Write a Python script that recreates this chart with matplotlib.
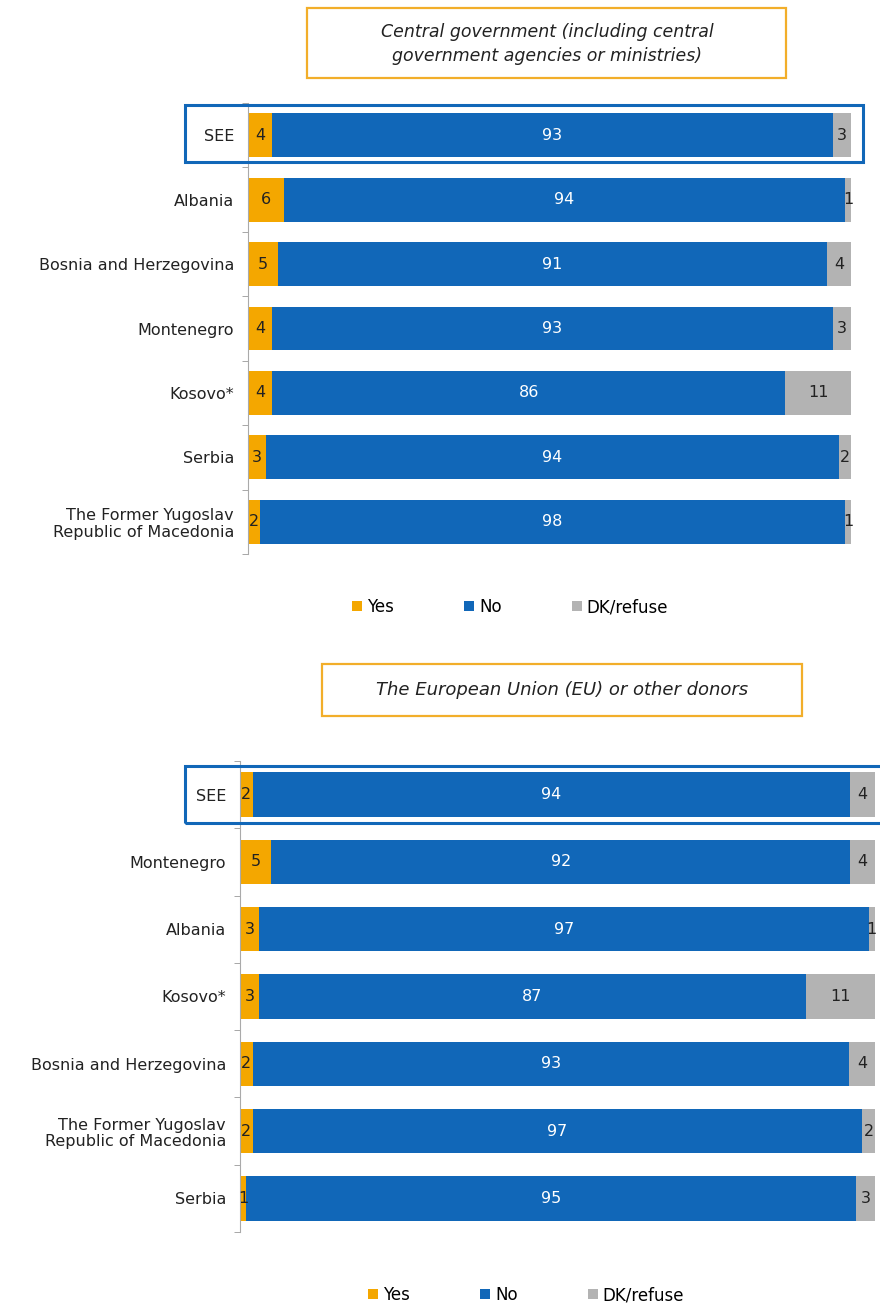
import matplotlib
matplotlib.use("Agg")
import matplotlib.pyplot as plt
from matplotlib.patches import Rectangle, Patch
import numpy as np

# data - top panel
top_title = "Central government (including central\ngovernment agencies or ministries)"
top_cats = ['SEE', 'Albania', 'Bosnia and Herzegovina', 'Montenegro', 'Kosovo*',
            'Serbia', 'The Former Yugoslav\nRepublic of Macedonia']
top_yes = [4, 6, 5, 4, 4, 3, 2]
top_no = [93, 94, 91, 93, 86, 94, 98]
top_dk = [3, 1, 4, 3, 11, 2, 1]

# data - bottom panel
bot_title = "The European Union (EU) or other donors"
bot_cats = ['SEE', 'Montenegro', 'Albania', 'Kosovo*', 'Bosnia and Herzegovina',
            'The Former Yugoslav\nRepublic of Macedonia', 'Serbia']
bot_yes = [2, 5, 3, 3, 2, 2, 1]
bot_no = [94, 92, 97, 87, 93, 97, 95]
bot_dk = [4, 4, 1, 11, 4, 2, 3]

series_names = ['Yes', 'No', 'DK/refuse']
YELLOW = '#F4A700'
BLUE = '#1167B8'
GREY = '#B3B3B3'
colors = [YELLOW, BLUE, GREY]
txt_colors = ['#222222', 'white', '#222222']

W, H = 880, 1308
fig = plt.figure(figsize=(W / 100, H / 100), dpi=100)
plt.rcParams['font.family'] = 'DejaVu Sans'


def fx(px):
    return px / W


def fy(py):
    return 1 - py / H


def panel(cats, yes, no, dk, left, right, top, bottom, barh):
    ax = fig.add_axes([fx(left), fy(bottom), fx(right - left), fy(top) - fy(bottom)])
    y = np.arange(len(cats))
    data = np.array([yes, no, dk], dtype=float)
    # rounded shares: draw each row as a 100% stacked bar
    shares = data / data.sum(axis=0) * 100
    lefts = np.zeros(len(cats))
    for vals, w, c, tc in zip(data, shares, colors, txt_colors):
        bars = ax.barh(y, w, left=lefts, height=barh, color=c)
        for b, v in zip(bars, vals):
            ax.text(b.get_x() + b.get_width() / 2, b.get_y() + b.get_height() / 2,
                    '%d' % v, ha='center', va='center', color=tc, fontsize=11.5)
        lefts += w
    ax.set_xlim(0, 100)
    ax.set_ylim(len(cats) - 0.5, -0.5)
    ax.set_yticks(y)
    ax.set_yticklabels(cats, fontsize=11.5, color='#222222', linespacing=1.15)
    ax.set_yticks(np.arange(len(cats) + 1) - 0.5, minor=True)
    ax.tick_params(axis='y', which='major', length=0, pad=10)
    ax.tick_params(axis='y', which='minor', length=4, color='#999999', direction='out')
    ax.set_xticks([])
    for s in ['top', 'right', 'bottom']:
        ax.spines[s].set_visible(False)
    ax.spines['left'].set_color('#AAAAAA')
    ax.spines['left'].set_linewidth(0.8)
    return ax


def box(x0, y0, x1, y1, color, lw):
    r = Rectangle((fx(x0), fy(y1)), fx(x1 - x0), fy(y0) - fy(y1), transform=fig.transFigure,
                  fill=False, edgecolor=color, linewidth=lw, clip_on=False)
    fig.patches.append(r)


# top panel
panel(top_cats, top_yes, top_no, top_dk, 248, 851, 103, 554, 0.68)
box(307, 8, 786, 78, '#F2AE2A', 1.6)
fig.text(fx(547), fy(44), top_title, ha='center', va='center', style='italic',
         fontsize=12.5, color='#222222', linespacing=1.45)
box(185, 105, 863, 162, BLUE, 2.2)

# bottom panel
panel(bot_cats, bot_yes, bot_no, bot_dk, 240, 875, 761, 1232, 0.66)
box(322, 664, 802, 716, '#F2AE2A', 1.6)
fig.text(fx(562), fy(690), bot_title, ha='center', va='center', style='italic',
         fontsize=13, color='#222222')
box(185, 766, 885, 823, BLUE, 2.2)

# legends
handles = [Patch(facecolor=c, edgecolor='none') for c in colors]
for cx, cy in [(510, 607), (526, 1295)]:
    fig.legend(handles, series_names, loc='center', bbox_to_anchor=(fx(cx), fy(cy)),
               ncol=3, frameon=False, fontsize=12, handlelength=0.6, handleheight=0.6,
               handletextpad=0.3, columnspacing=4.2)

fig.savefig('out.png', dpi=100)
